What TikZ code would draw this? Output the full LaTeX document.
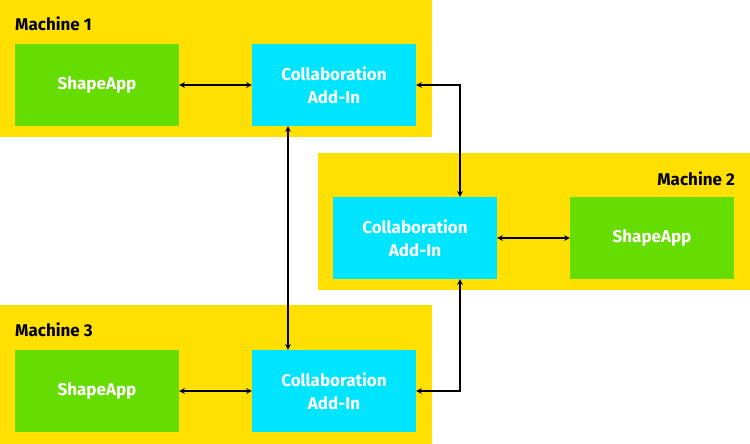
\documentclass[tikz,border=0pt]{standalone}
\usepackage{fontspec}
\setmainfont{Fira Sans}
\usetikzlibrary{positioning}
\definecolor{machinefill}{HTML}{FFE000}
\definecolor{appfill}{HTML}{66DD00}
\definecolor{addinfill}{HTML}{00E5FF}
\tikzset{
  machine/.style={fill=machinefill, draw=none},
  box/.style={minimum width=164pt, minimum height=82pt, inner sep=0pt, align=center,
    text=white, font=\fontsize{17}{23}\selectfont\bfseries},
  app/.style={box, fill=appfill},
  addin/.style={box, fill=addinfill},
  mlabel/.style={font=\fontsize{17}{20}\selectfont\bfseries, inner sep=0pt},
  link/.style={<->, >=stealth, line width=1.5pt}
}
\begin{document}
\begin{tikzpicture}[x=1pt, y=-1pt]
  \useasboundingbox (0,0) rectangle (750,444);
  % machines
  \fill[machine] (0,0) rectangle (432,137);
  \fill[machine] (318,153) rectangle (750,290);
  \fill[machine] (0,305) rectangle (432,444);
  \node[mlabel, anchor=west] (m1) at (15,24) {Machine 1};
  \node[mlabel, anchor=east] (m2) at (735,179) {Machine 2};
  \node[mlabel, anchor=west] (m3) at (15,330) {Machine 3};
  % boxes
  \node[app] (app1) at (97,85) {ShapeApp};
  \node[addin] (add1) at (334,85) {Collaboration\\Add-In};
  \node[addin] (add2) at (415,238) {Collaboration\\Add-In};
  \node[app] (app2) at (652,238) {ShapeApp};
  \node[app] (app3) at (97,391) {ShapeApp};
  \node[addin] (add3) at (334,391) {Collaboration\\Add-In};
  % links
  \draw[link] (app1) -- (add1);
  \draw[link] (add2) -- (app2);
  \draw[link] (app3) -- (add3);
  \draw[link] ([xshift=-46pt]add1.south) -- ([xshift=-46pt]add3.north);
  \draw[link] (add1.east) -| ([xshift=45pt]add2.north);
  \draw[link] (add3.east) -| ([xshift=45pt]add2.south);
\end{tikzpicture}
\end{document}
